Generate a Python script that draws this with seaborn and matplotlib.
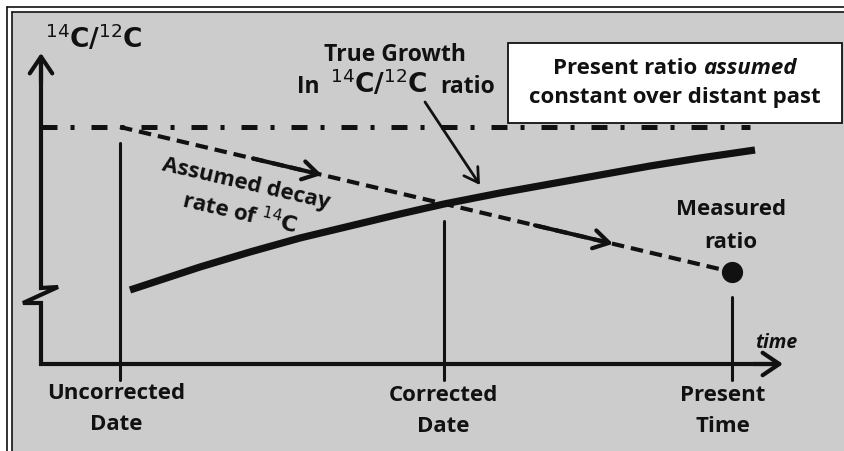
import matplotlib
matplotlib.use("Agg")
import numpy as np
import seaborn as sns
from matplotlib import pyplot as plt
from matplotlib.patches import Rectangle

# diagram coordinates: time along x, 14C/12C ratio along y (arbitrary units)
date_labels = ["Uncorrected\nDate", "Corrected\nDate", "Present\nTime"]
date_x = [79, 403, 691]
date_top = [221, 143, 67]
assumed_ratio = 237
measured_ratio = 92
growth_x = [89, 159, 209, 259, 309, 359, 403, 459, 509, 559, 609, 659, 714]
growth_y = [74, 97, 112, 126, 138, 150, 160, 171, 180, 189, 198, 206, 214]
axis_top = 311
axis_end = 742
constant_end = 709

INK = "#111111"
GRAY = "#cccccc"
FONT = ["Open Sans", "DejaVu Sans"]

sns.set_theme(style="white")
plt.rcParams["font.family"] = FONT
plt.rcParams["lines.scale_dashes"] = False
plt.rcParams["mathtext.fontset"] = "dejavusans"

fig = plt.figure(figsize=(8.44, 4.51), dpi=100)
fig.patch.set_facecolor("white")
ax = fig.add_axes([0, 0, 1, 1])
ax.set_xlim(-41, 803)
ax.set_ylim(-87, 364)
ax.axis("off")

# background panel and double frame
ax.add_patch(Rectangle((-29, -90), 840, 442, facecolor=GRAY, edgecolor="none", zorder=0))
for off in (-34, -29):
    top = 323 + (-off)
    ax.plot([off, off], [-90, top], color=INK, lw=1.2, zorder=1)
    ax.plot([off, 810], [top, top], color=INK, lw=1.2, zorder=1)

# axes with break mark
ax.plot([0, 0, 17, -18, 0, 0, axis_end - 5], [axis_top - 5, 76, 77, 61, 61, 0, 0],
        color=INK, lw=3, solid_joinstyle="miter", zorder=3)
arrow_kw = dict(arrowstyle="->,head_length=0.4,head_width=0.27", lw=3, color=INK,
                mutation_scale=30, shrinkA=0, shrinkB=0)
ax.annotate("", xy=(0, axis_top), xytext=(0, axis_top - 30), arrowprops=arrow_kw)
ax.annotate("", xy=(axis_end, 0), xytext=(axis_end - 30, 0), arrowprops=arrow_kw)

# date markers
for x, top, label in zip(date_x, date_top, date_labels):
    ax.plot([x, x], [top, -16], color=INK, lw=2.2, zorder=3)
label_pos = [(75, -45), (402, -47), (682, -47)]
for (lx, ly), label in zip(label_pos, date_labels):
    ax.text(lx, ly, label, ha="center", va="center", fontsize=16, fontweight="bold",
            color=INK, linespacing=1.6)

# assumed constant ratio
ax.plot([0, constant_end], [assumed_ratio, assumed_ratio], color=INK, lw=3.6,
        linestyle=(0, (11.5, 9.4, 2.9, 12.2)), zorder=2)

# assumed decay line
decay_x = [date_x[0], date_x[2]]
decay_y = [assumed_ratio, measured_ratio]
sns.lineplot(x=decay_x, y=decay_y, ax=ax, color=INK, lw=3, linestyle=(0, (9, 5)), zorder=3)
head_kw = dict(arrowstyle="->,head_length=0.5,head_width=0.3", lw=3, color=INK,
               mutation_scale=22, shrinkA=0, shrinkB=0)
for tail, head in [(212, 281), (494, 572)]:
    ax.annotate("", xy=(head, np.interp(head, decay_x, decay_y)),
                xytext=(tail, np.interp(tail, decay_x, decay_y)), arrowprops=head_kw, zorder=4)

# true growth curve
sns.lineplot(x=growth_x, y=growth_y, ax=ax, color=INK, lw=5.2, zorder=4,
             solid_capstyle="butt")

# measured ratio dot
sns.scatterplot(x=[date_x[2]], y=[measured_ratio], ax=ax, s=200, color=INK,
                edgecolor=INK, zorder=5)

# labels
txt = dict(color=INK, fontweight="bold")
ax.text(4, 316, r"$^{14}\mathbf{C/}^{12}\mathbf{C}$", fontsize=19, ha="left",
        va="baseline", **txt)
ax.text(354, 309, "True Growth", fontsize=16.5, ha="center", va="center", **txt)
ax.text(256, 271, "In", fontsize=16.5, ha="left", va="baseline", **txt)
ax.text(289, 271, r"$^{14}\mathbf{C/}^{12}\mathbf{C}$", fontsize=19, ha="left",
        va="baseline", **txt)
ax.text(399, 271, "ratio", fontsize=16.5, ha="left", va="baseline", **txt)
ax.annotate("", xy=(439, 179), xytext=(384, 262),
            arrowprops=dict(arrowstyle="->,head_length=0.5,head_width=0.3", lw=2,
                            color=INK, mutation_scale=20, shrinkA=0, shrinkB=0))

ax.text(205, 180, "Assumed decay", fontsize=16, rotation=-13, rotation_mode="anchor",
        ha="center", va="center", **txt)
ax.text(199, 151, r"rate of $^{14}\mathbf{C}$", fontsize=16, rotation=-13,
        rotation_mode="anchor", ha="center", va="center", **txt)

ax.text(690, 138, "Measured\nratio", fontsize=16, ha="center", va="center",
        linespacing=1.7, **txt)
ax.text(735, 21, "time", fontsize=14, ha="center", va="center", style="italic", **txt)

# boxed note
ax.add_patch(Rectangle((467, 241), 334, 80, facecolor="white", edgecolor=INK,
                       lw=1.3, zorder=5))
r = fig.canvas.get_renderer()
t1 = ax.text(0, 296, "Present ratio ", fontsize=16, ha="left", va="center", zorder=6, **txt)
t2 = ax.text(0, 296, "assumed", fontsize=16, ha="left", va="center", style="italic",
             zorder=6, **txt)
inv = ax.transData.inverted()
w1 = inv.transform((t1.get_window_extent(r).width, 0))[0] - inv.transform((0, 0))[0]
w2 = inv.transform((t2.get_window_extent(r).width, 0))[0] - inv.transform((0, 0))[0]
start = 634 - (w1 + w2) / 2
t1.set_x(start)
t2.set_x(start + w1)
ax.text(634, 266, "constant over distant past", fontsize=16, ha="center", va="center",
        zorder=6, **txt)

fig.savefig("out.png", dpi=100)
